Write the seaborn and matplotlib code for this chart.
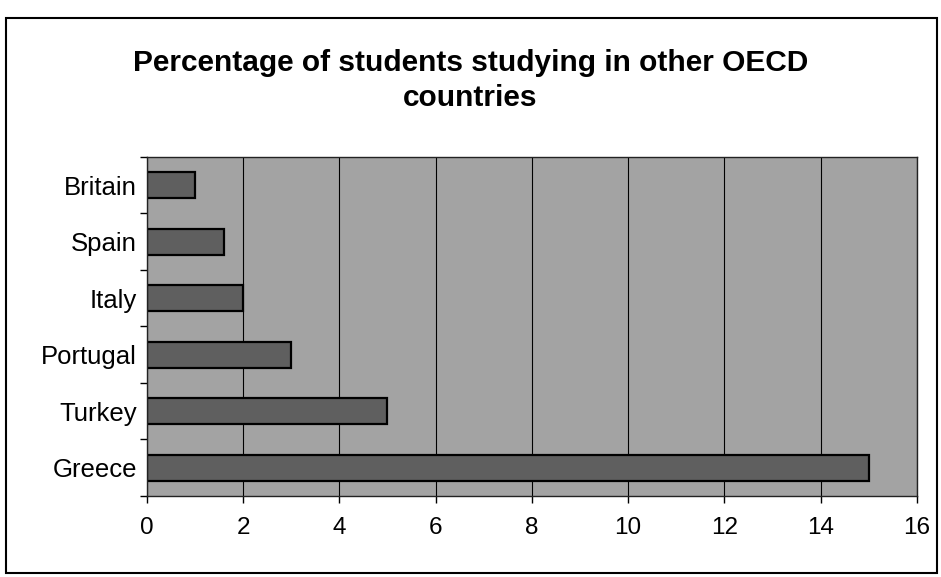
import numpy as np
import pandas as pd
import seaborn as sns
from matplotlib import pyplot as plt
from matplotlib.patches import Rectangle

# Data
countries = ["Britain", "Spain", "Italy", "Portugal", "Turkey", "Greece"]
percent = [1.0, 1.6, 2.0, 3.0, 5.0, 15.0]
x_ticks = [0, 2, 4, 6, 8, 10, 12, 14, 16]

df = pd.DataFrame({"country": countries, "percent": percent})

sns.set_style("white")
plt.rcParams['font.family'] = ['Liberation Sans', 'DejaVu Sans']
plt.rcParams['text.color'] = 'black'
plt.rcParams['xtick.color'] = 'black'
plt.rcParams['ytick.color'] = 'black'

fig = plt.figure(figsize=(9.41, 5.77), dpi=100)
ax = fig.add_axes([0.156, 0.1404, 0.8185, 0.5876])

ax.set_facecolor("#a3a3a3")
sns.barplot(data=df, x="percent", y="country", order=countries, orient="h",
            color="#5f5f5f", edgecolor="black", linewidth=1.6, width=0.46,
            saturation=1, ax=ax)

ax.set_xlim(0, 16)
ax.set_ylim(len(countries) - 0.5, -0.5)
ax.set_xticks(x_ticks)
ax.set_xticklabels([str(t) for t in x_ticks], fontsize=17.5)
ax.set_yticks(np.arange(len(countries)))
ax.set_yticklabels(countries, fontsize=18.5)
ax.tick_params(axis="y", which="major", left=True, length=0, pad=7)
ax.set_yticks(np.arange(-0.5, len(countries) + 0.5), minor=True)
ax.tick_params(axis="y", which="minor", left=True, length=5, width=1, direction="out")
ax.tick_params(axis="x", bottom=True, length=5, width=1, direction="out", pad=10)

ax.xaxis.grid(True, color="black", linewidth=0.8)
ax.set_axisbelow(True)
for s in ax.spines.values():
    s.set_color("#222222")
    s.set_linewidth(1)
ax.set_xlabel("")
ax.set_ylabel("")

fig.text(0.5, 0.86, "Percentage of students studying in other OECD\ncountries",
         ha="center", va="center", fontsize=21.5, fontweight="bold", linespacing=1.3)

# outer chart frame
fig.patches.append(Rectangle((0.006, 0.007), 0.99, 0.962, transform=fig.transFigure,
                             fill=False, edgecolor="black", linewidth=1.5))

fig.savefig("out.png", dpi=100)
